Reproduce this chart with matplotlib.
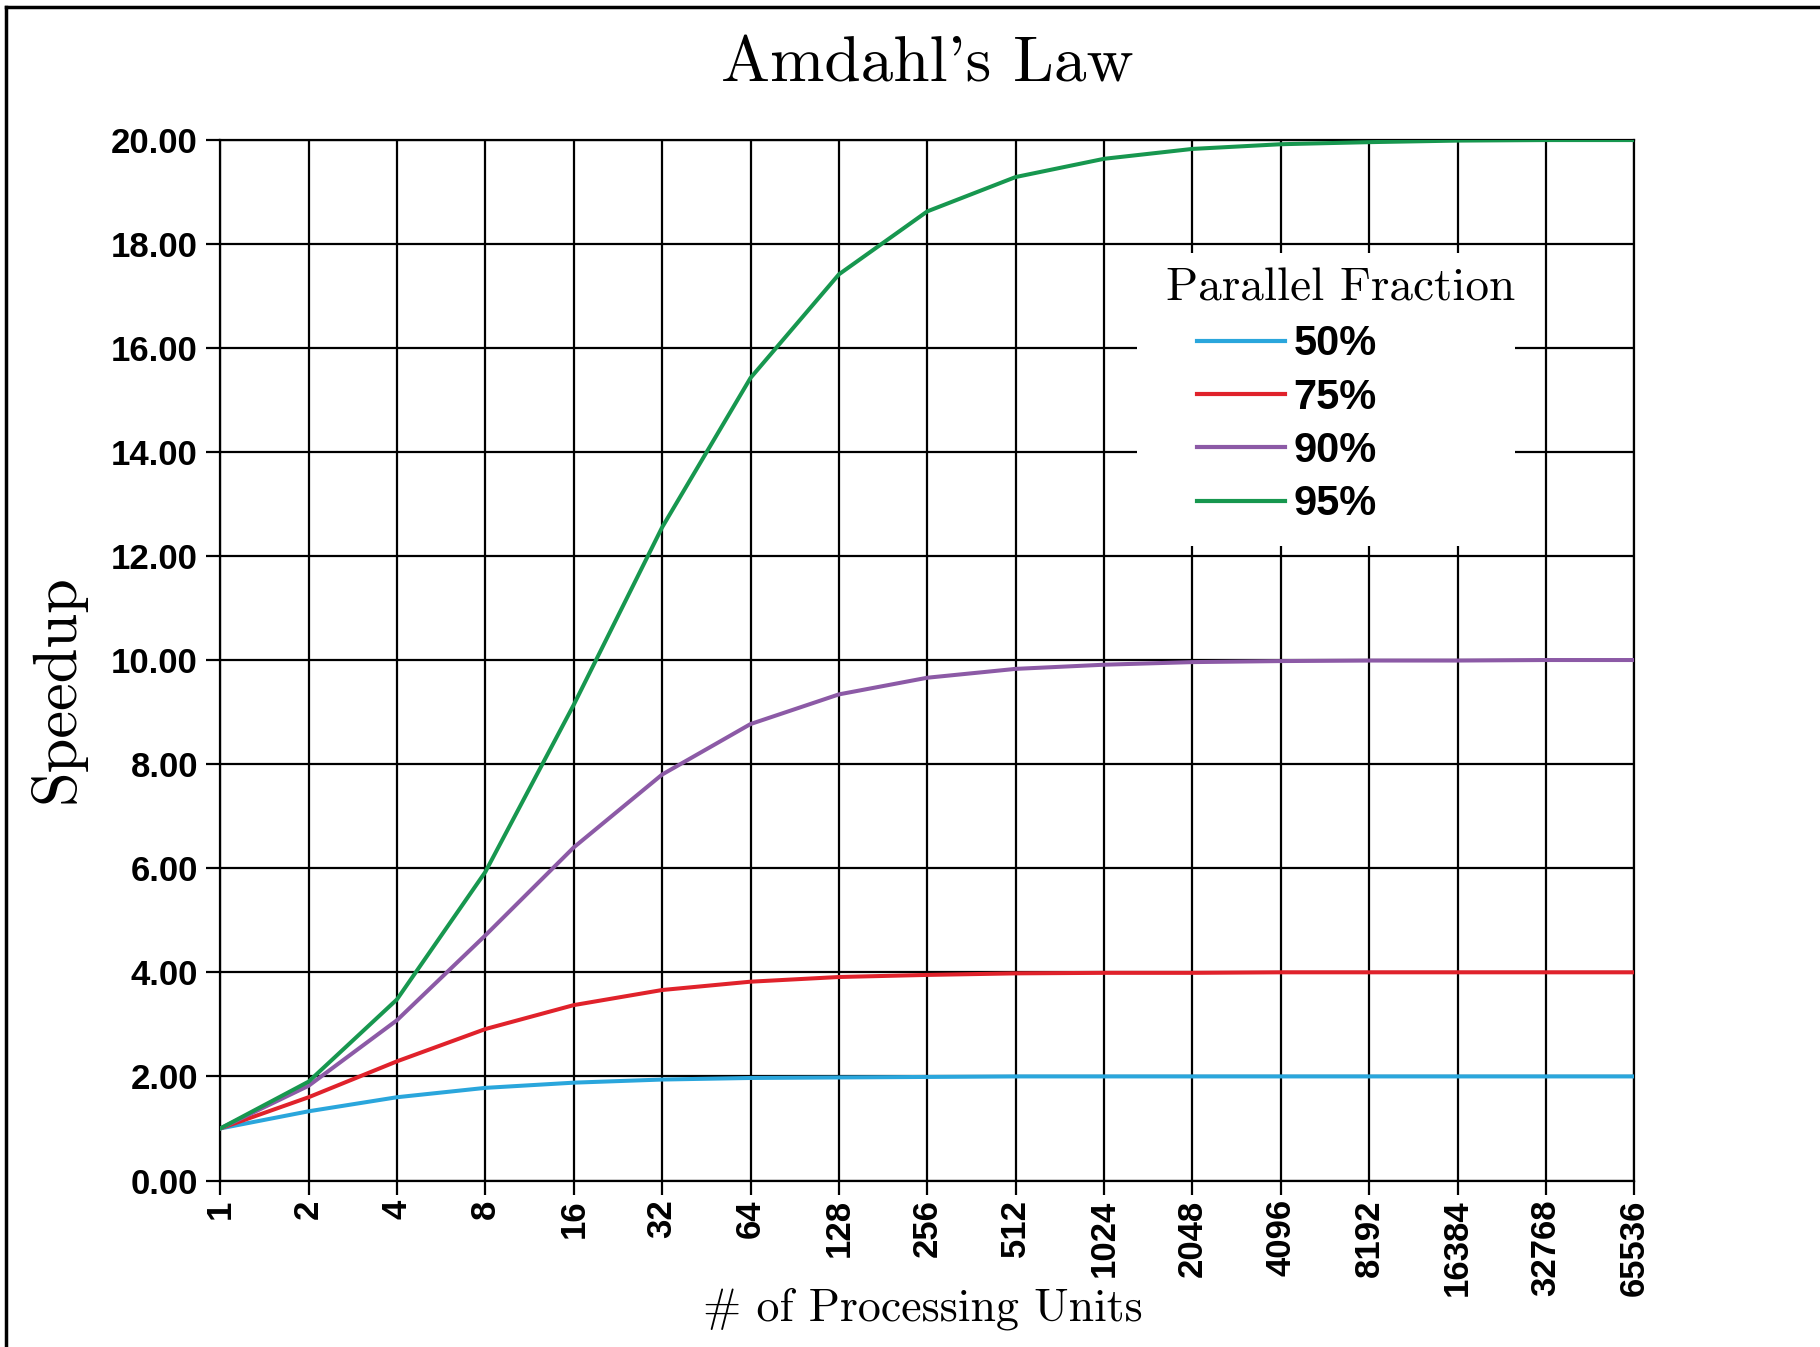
#!/usr/bin/python3
#
# plot.py
#
# Amdahl's law speedup curves for several parallel fractions

import matplotlib
matplotlib.use('Agg')
import matplotlib.pyplot as plt
from matplotlib.lines import Line2D
from matplotlib.patches import Rectangle
from matplotlib.ticker import FixedLocator, FixedFormatter, FormatStrFormatter


# Number of processing units (x axis) and tick labels
units = [1, 2, 4, 8, 16, 32, 64, 128, 256, 512, 1024, 2048, 4096,
         8192, 16384, 32768, 65536]
unit_labels = [str(u) for u in units]

# Speedup for each parallel fraction
speedup_50 = [1.00, 1.33, 1.60, 1.78, 1.88, 1.94, 1.97, 1.98, 1.99, 2.00,
              2.00, 2.00, 2.00, 2.00, 2.00, 2.00, 2.00]
speedup_75 = [1.00, 1.60, 2.29, 2.91, 3.37, 3.66, 3.82, 3.91, 3.95, 3.98,
              3.99, 3.99, 4.00, 4.00, 4.00, 4.00, 4.00]
speedup_90 = [1.00, 1.82, 3.08, 4.71, 6.40, 7.80, 8.77, 9.34, 9.66, 9.83,
              9.91, 9.96, 9.98, 9.99, 9.99, 10.00, 10.00]
speedup_95 = [1.00, 1.90, 3.48, 5.93, 9.14, 12.55, 15.42, 17.41, 18.62, 19.28,
              19.63, 19.82, 19.91, 19.95, 19.98, 19.99, 19.99]

series_labels = ['50%', '75%', '90%', '95%']
series_colors = ['#2aa6dc', '#e0222b', '#8c5aa6', '#17974f']

y_ticks = [0, 2, 4, 6, 8, 10, 12, 14, 16, 18, 20]

serif = 'cmr10'
sans = 'Liberation Sans'


fig = plt.figure(figsize=(18.2, 13.47), dpi=100)
ax = fig.add_axes([0.121, 0.1236, 0.777, 0.7728])

# Border of the picture (left and top edge)
fig.add_artist(Line2D([0.0035, 0.0035], [0.0, 0.995], transform=fig.transFigure,
                      color='black', lw=2.5))
fig.add_artist(Line2D([0.0035, 1.0], [0.995, 0.995], transform=fig.transFigure,
                      color='black', lw=2.5))

for vals, lab, col in zip([speedup_50, speedup_75, speedup_90, speedup_95],
                          series_labels, series_colors):
    ax.plot(units, vals, color=col, lw=2.9, label=lab, zorder=3)

ax.set_xscale('log', base=2)
ax.set_xlim(1, 65536)
ax.set_ylim(0, 20)
ax.xaxis.set_major_locator(FixedLocator(units))
ax.xaxis.set_major_formatter(FixedFormatter(unit_labels))
ax.xaxis.set_minor_locator(FixedLocator([]))
ax.yaxis.set_major_locator(FixedLocator(y_ticks))
ax.yaxis.set_major_formatter(FormatStrFormatter('%.2f'))

ax.grid(True, color='black', lw=1.6)
ax.set_axisbelow(True)
for sp in ax.spines.values():
    sp.set_linewidth(1.6)
ax.tick_params(direction='out', length=10, width=1.6)
ax.tick_params(axis='x', pad=3.5)
ax.tick_params(axis='y', pad=6)

for t in ax.get_xticklabels():
    t.set_rotation(90)
    t.set_fontfamily(sans)
    t.set_fontweight('bold')
    t.set_fontsize(25)
for t in ax.get_yticklabels():
    t.set_fontfamily(sans)
    t.set_fontweight('bold')
    t.set_fontsize(25)

ax.set_title("Amdahl's Law", fontfamily=serif, fontsize=47, pad=42)
ax.set_ylabel('Speedup', fontfamily=serif, fontsize=45)
ax.yaxis.set_label_coords(-0.095, 0.473)
ax.set_xlabel('# of Processing Units', fontfamily=serif, fontsize=33)
ax.xaxis.set_label_coords(0.497, -0.103)

# White panel behind the legend hides the grid
ax.add_patch(Rectangle((0.6486, 0.6094), 0.2668, 0.2814, transform=ax.transAxes,
                       facecolor='white', edgecolor='none', zorder=2.5))
ax.text(0.669, 0.857, 'Parallel Fraction', transform=ax.transAxes,
        fontfamily=serif, fontsize=34, va='center', ha='left', zorder=4)

leg = ax.legend(loc='center left', bbox_to_anchor=(0.691, 0.7264),
                prop={'family': sans, 'weight': 'bold', 'size': 30},
                frameon=False, handlelength=2.11, handletextpad=0.2,
                labelspacing=0.32, borderpad=0, borderaxespad=0)
leg.set_zorder(4)
for h in leg.get_lines():
    h.set_linewidth(3.0)

fig.savefig('out.png', dpi=100)
